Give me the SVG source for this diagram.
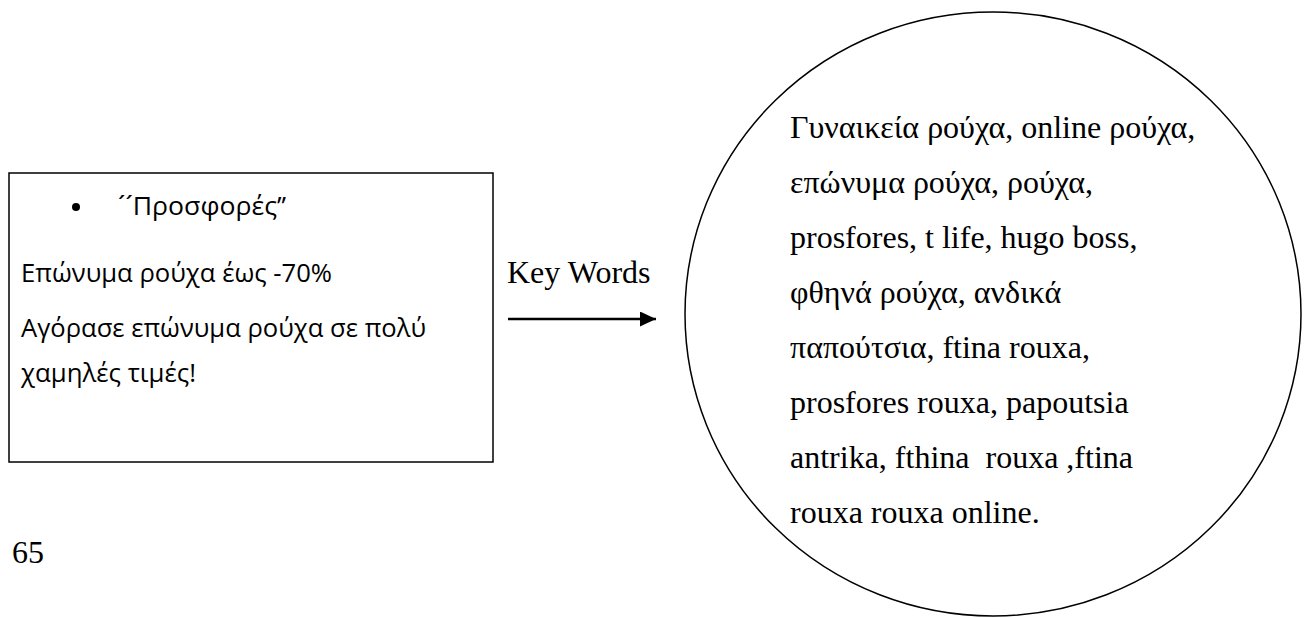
<svg xmlns="http://www.w3.org/2000/svg" width="1306" height="618" viewBox="0 0 1306 618">
  <style>
    .sans { font-family: "Open Sans", "Noto Sans", "Liberation Sans", sans-serif; font-size: 25px; fill: #000; }
    .serif { font-family: "Liberation Serif", "DejaVu Serif", serif; font-size: 32px; fill: #000; }
    .shape { fill: #fff; stroke: #000; stroke-width: 1.5; }
  </style>
  <defs>
    <marker id="arrow" viewBox="0 0 16 15" refX="16" refY="7.5" markerWidth="16" markerHeight="15" markerUnits="userSpaceOnUse" orient="auto">
      <path d="M0,0 L16,7.5 L0,15 Z" fill="#000"/>
    </marker>
  </defs>
  <rect width="1306" height="618" fill="#fff"/>

  <g id="ad-box">
    <rect class="shape" x="9" y="173" width="484" height="289"/>
    <circle cx="76" cy="207" r="4" fill="#000"/>
    <text class="sans" x="118" y="215" textLength="168" lengthAdjust="spacingAndGlyphs">´´Προσφορές’’</text>
    <text class="sans" x="21" y="282" textLength="311" lengthAdjust="spacingAndGlyphs">Επώνυμα ρούχα έως -70%</text>
    <text class="sans" x="21" y="337" textLength="405" lengthAdjust="spacingAndGlyphs">Αγόρασε επώνυμα ρούχα σε πολύ</text>
    <text class="sans" x="21" y="382" textLength="175" lengthAdjust="spacingAndGlyphs">χαμηλές τιμές!</text>
  </g>

  <g id="keywords-circle">
    <ellipse class="shape" cx="993" cy="314" rx="308" ry="302"/>
    <text class="serif" x="790" y="138">Γυναικεία ρούχα, online ρούχα,</text>
    <text class="serif" x="790" y="193">επώνυμα ρούχα, ρούχα,</text>
    <text class="serif" x="790" y="248">prosfores, t life, hugo boss,</text>
    <text class="serif" x="790" y="303">φθηνά ρούχα, ανδικά</text>
    <text class="serif" x="790" y="358">παπούτσια, ftina rouxa,</text>
    <text class="serif" x="790" y="413">prosfores rouxa, papoutsia</text>
    <text class="serif" x="790" y="468" xml:space="preserve">antrika, fthina  rouxa ,ftina</text>
    <text class="serif" x="790" y="523">rouxa rouxa online.</text>
  </g>

  <g id="connectors">
    <line x1="508" y1="319" x2="656" y2="319" stroke="#000" stroke-width="2.5" marker-end="url(#arrow)"/>
    <text class="serif" x="507" y="283">Key Words</text>
  </g>

  <g id="page-number">
    <text class="serif" x="12" y="563">65</text>
  </g>
</svg>
